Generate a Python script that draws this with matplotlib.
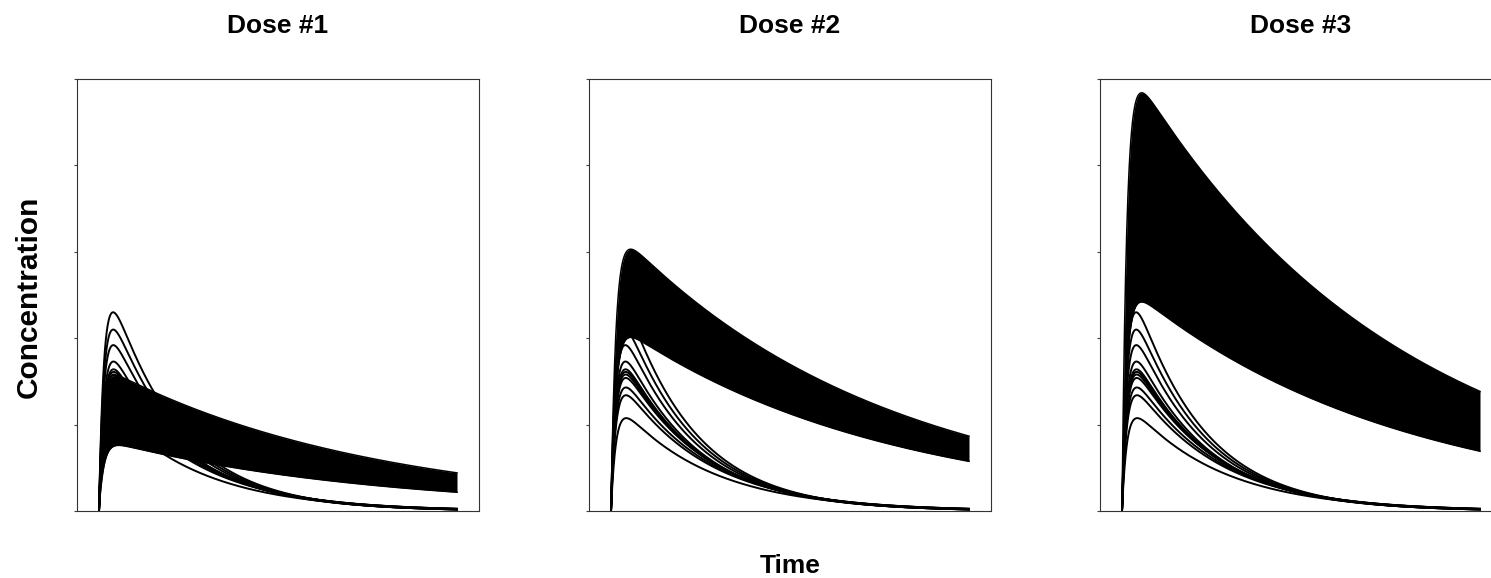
import numpy as np
import matplotlib
matplotlib.use("Agg")
import matplotlib.pyplot as plt

plt.rcParams['font.family'] = ['Liberation Sans', 'DejaVu Sans']

# ---------------- data ----------------
panel_titles = ["Dose #1", "Dose #2", "Dose #3"]
x_label = "Time"
y_label = "Concentration"

t_end = 24.0          # hours simulated
y_max = 5.0           # top of concentration axis
y_ticks = [0, 1, 2, 3, 4, 5]

# fast-eliminating subjects (same in every panel): peak conc. & elimination rate
fast_cmax = [2.30, 2.10, 1.92, 1.73, 1.64, 1.61, 1.58, 1.54, 1.43, 1.34, 1.075]
fast_ke = [0.215, 0.21, 0.205, 0.2, 0.195, 0.19, 0.19, 0.185, 0.18, 0.175, 0.165]
fast_ka = 3.0

# slow-eliminating population band: envelope peak concentrations per dose
band_upper_cmax = [1.57, 3.03, 4.84]
band_lower_cmax = [0.76, 2.01, 2.42]
band_upper_ka = [4.0, 3.1, 3.1]
band_lower_ka = [3.1, 3.1, 3.1]
band_ke = 0.056


def oral_curve(t, cmax, ka, ke):
    shape = np.exp(-ke * t) - np.exp(-ka * t)
    return cmax * shape / shape.max()


t = np.linspace(0, t_end, 1201)

W, H = 1491, 578
fig = plt.figure(figsize=(W / 100, H / 100), dpi=100)

lefts_px = [77, 589, 1100]
ax_w_px, ax_top_px, ax_bot_px = 402, 79, 511
span = t_end / (358 / 402)
pad_left = 22 / 402 * span

for i, left in enumerate(lefts_px):
    ax = fig.add_axes([left / W, 1 - ax_bot_px / H, ax_w_px / W, (ax_bot_px - ax_top_px) / H])
    upper = oral_curve(t, band_upper_cmax[i], band_upper_ka[i], band_ke)
    lower = oral_curve(t, band_lower_cmax[i], band_lower_ka[i], band_ke)
    ax.fill_between(t, lower, upper, color='black', lw=0)
    ax.plot(t, upper, color='black', lw=1.1)
    ax.plot(t, lower, color='black', lw=1.1)
    for cm, ke in zip(fast_cmax, fast_ke):
        ax.plot(t, oral_curve(t, cm, fast_ka, ke), color='black', lw=1.4)
    ax.set_xlim(-pad_left, -pad_left + span)
    ax.set_ylim(0, y_max)
    ax.set_yticks(y_ticks)
    ax.set_xticks([])
    ax.tick_params(axis='y', direction='out', length=2.5, width=0.8, labelleft=False, colors='#444444')
    for s in ax.spines.values():
        s.set_linewidth(0.8)
        s.set_color('#333333')
    cx = (left + ax_w_px / 2) / W
    fig.text(cx, 1 - 33 / H, panel_titles[i], ha='center', va='baseline',
             fontsize=19, fontweight='bold')

fig.text(29 / W, 1 - 296.5 / H, y_label, rotation=90, ha='center', va='center',
         fontsize=21.5, fontweight='bold')
fig.text((589 + 201) / W, 1 - 573 / H, x_label, ha='center', va='baseline',
         fontsize=19, fontweight='bold')

fig.savefig("out.png", dpi=100, facecolor='white')
